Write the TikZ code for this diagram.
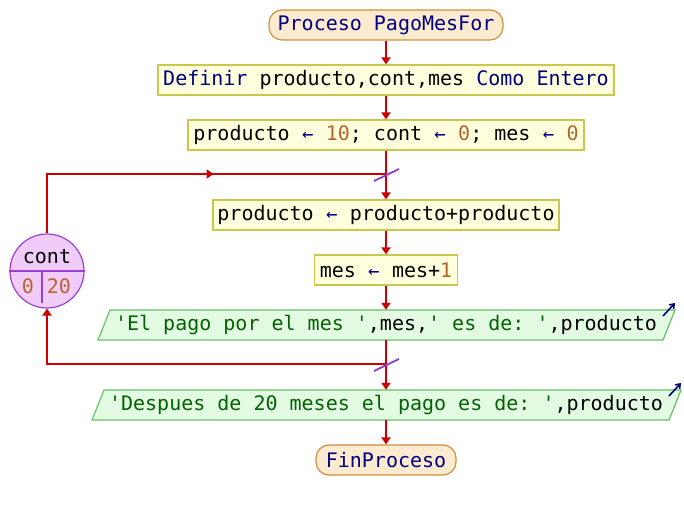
\documentclass[tikz,border=0pt]{standalone}
\usepackage{fontspec}
\newfontfamily\monof{DejaVu Sans Mono}
\usetikzlibrary{arrows.meta,decorations.markings}
\definecolor{linered}{HTML}{CC0000}
\definecolor{slashpurple}{HTML}{8B3FC8}
\definecolor{kwcol}{HTML}{000080}
\definecolor{numcol}{HTML}{B5652B}
\definecolor{strcol}{HTML}{006400}
\definecolor{boxfill}{HTML}{FFFFDD}
\definecolor{boxdraw}{HTML}{C8C850}
\definecolor{termfill}{HTML}{FDEBD0}
\definecolor{termdraw}{HTML}{CF8F3F}
\definecolor{outfill}{HTML}{E3FBE3}
\definecolor{outdraw}{HTML}{66C266}
\definecolor{circfill}{HTML}{F0CCFA}
\definecolor{circdraw}{HTML}{9C3FD0}
\newcommand\ckw[1]{\textcolor{kwcol}{#1}}
\newcommand\cnum[1]{\textcolor{numcol}{#1}}
\newcommand\cstr[1]{\textcolor{strcol}{#1}}
\newcommand\casg{\makebox[12pt]{\textcolor{kwcol}{\fontsize{19}{19}\selectfont ←}}}
\tikzset{
  every node/.style={font=\monof\fontsize{20}{24}\selectfont\frenchspacing},
  term/.style={draw=termdraw, fill=termfill, line width=1.2pt, rounded corners=13pt, minimum height=30pt, inner sep=0pt},
  procbox/.style={draw=boxdraw, fill=boxfill, line width=1.2pt, minimum height=30pt, inner sep=0pt},
  outtext/.style={minimum height=30pt, inner sep=0pt},
  outshape/.style={draw=outdraw, fill=outfill, line width=1.2pt},
  flow/.style={draw=linered, line width=1.8pt},
  flowarrow/.style={flow, -{Triangle[length=7pt,width=9pt]}},
  slashmark/.style={draw=slashpurple, line width=1.8pt},
  outicon/.style={draw=kwcol, line width=1.6pt, -{Straight Barb[length=4pt,width=6pt]}},
  loopcirc/.style={circle, draw=circdraw, fill=circfill, line width=1.2pt, minimum size=74pt, inner sep=0pt}
}
\begin{document}
\begin{tikzpicture}[x=1pt,y=-1pt]
\useasboundingbox (0,0) rectangle (684,510);
% nodes
\node[term, minimum width=234pt] (start) at (386,25) {\ckw{Proceso PagoMesFor}};
\node[procbox, minimum width=456pt] (def) at (386,80) {\ckw{Definir} producto,cont,mes \ckw{Como Entero}};
\node[procbox, minimum width=396pt] (init) at (386,135) {producto \casg{} \cnum{10}; cont \casg{} \cnum{0}; mes \casg{} \cnum{0}};
\node[procbox, minimum width=346pt] (body1) at (386,215) {producto \casg{} producto+producto};
\node[procbox, minimum width=143pt] (body2) at (386,270) {mes \casg{} mes+\cnum{1}};
\path[outshape] (110,310) -- (675,310) -- (663,340) -- (98,340) -- cycle;
\node[outtext, minimum width=540pt] (out1) at (386,325) {\cstr{'El pago por el mes '},mes,\cstr{' es de: '},producto};
\path[outshape] (104,390) -- (681,390) -- (669,420) -- (92,420) -- cycle;
\node[outtext, minimum width=552pt] (out2) at (386,405) {\cstr{'Despues de 20 meses el pago es de: '},producto};
\node[term, minimum width=140pt] (fin) at (386,460) {\ckw{FinProceso}};
\node[loopcirc] (circ) at (47,271) {};
\coordinate (j1) at (386,174);
\coordinate (j2) at (386,364);
\coordinate (c1) at (47,174);
\coordinate (c2) at (47,364);
% circle contents
\draw[draw=circdraw, line width=1.2pt] (circ.west) -- (circ.east);
\draw[draw=circdraw, line width=1.2pt] (42,271) coordinate (dv) -- (42,303);
\node (cntlbl) at (47,257) {cont};
\node (cntlo) at (28,286) {\cnum{0}};
\node (cnthi) at (59,286) {\cnum{20}};
% connectors
\draw[flowarrow] (start.south) -- (def.north);
\draw[flowarrow] (def.south) -- (init.north);
\draw[flow] (init.south) -- (j1);
\draw[flowarrow] (j1) -- (body1.north);
\draw[flowarrow] (body1.south) -- (body2.north);
\draw[flowarrow] (body2.south) -- (out1.north);
\draw[flow] (out1.south) -- (j2);
\draw[flowarrow] (j2) -- (out2.north);
\draw[flowarrow] (out2.south) -- (fin.north);
% loop
\draw[flow, postaction={decorate}, decoration={markings, mark=at position 226pt with {\arrow[linered]{Triangle[length=7pt,width=9pt]}}}] (circ.north) -- (c1) -- (j1);
\draw[flowarrow] (j2) -- (c2) -- (circ.south);
% slash marks
\draw[slashmark] ([shift={(-12,7)}]j1) -- ([shift={(13,-5)}]j1);
\draw[slashmark] ([shift={(-12,7)}]j2) -- ([shift={(13,-5)}]j2);
% output icons
\coordinate (i1a) at (663,316); \coordinate (i1b) at (675,303);
\coordinate (i2a) at (669,396); \coordinate (i2b) at (681,383);
\draw[outicon] (i1a) -- (i1b);
\draw[outicon] (i2a) -- (i2b);
\end{tikzpicture}
\end{document}
